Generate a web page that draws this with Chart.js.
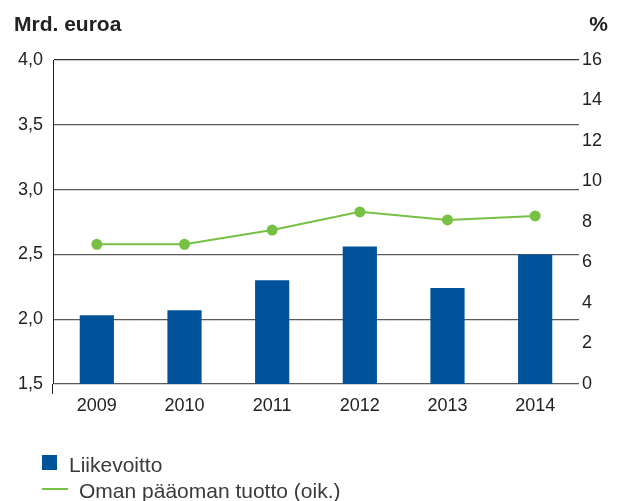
<!DOCTYPE html>
<html>
<head>
<meta charset="utf-8">
<script src="https://cdn.jsdelivr.net/npm/chart.js@4.4.1/dist/chart.umd.min.js"></script>
<style>
    body { margin: 0; background: #fff; }
    #wrap { position: relative; width: 622px; height: 501px; overflow: hidden; font-family: "Liberation Sans", Arial, sans-serif; color: #222; }
    #chart { position: absolute; left: 0; top: 0; }
    .title { position: absolute; top: 13px; font-weight: bold; font-size: 21px; line-height: 21px; color: #222; }
    .legend-text { position: absolute; font-size: 21px; line-height: 21px; color: #3a3a3a; }
    .swatch { position: absolute; }
</style>
</head>
<body>
<div id="wrap">
    <canvas id="chart" width="622" height="501"></canvas>
    <div class="title" style="left:14px;">Mrd. euroa</div>
    <div class="title" style="right:14px;">%</div>
    <div class="swatch" style="left:42px; top:455px; width:15px; height:15px; background:#00529b;"></div>
    <div class="legend-text" style="left:69px; top:454px;">Liikevoitto</div>
    <div class="swatch" style="left:42px; top:488px; width:26px; height:2px; background:#76c043;"></div>
    <div class="legend-text" style="left:79px; top:480px;">Oman pääoman tuotto (oik.)</div>
</div>
<script>
const years = ['2009', '2010', '2011', '2012', '2013', '2014'];
// Liikevoitto, mrd. euroa (left axis)
const operatingProfit = [2.03, 2.07, 2.30, 2.56, 2.24, 2.50];
// Oman pääoman tuotto, % (right axis)
const returnOnEquity = [6.9, 6.9, 7.6, 8.5, 8.1, 8.3];

const leftTicks = { min: 1.5, max: 4.0, step: 0.5 };
const rightTicks = { min: 0, max: 16, step: 2 };

const tickFont = { family: '"Liberation Sans Narrow", "Liberation Sans", Arial, sans-serif', size: 18 };

const ctx = document.getElementById('chart').getContext('2d');
new Chart(ctx, {
    type: 'bar',
    data: {
        labels: years,
        datasets: [{
            type: 'line',
            label: 'Oman pääoman tuotto (oik.)',
            data: returnOnEquity,
            yAxisID: 'y1',
            borderColor: '#76c043',
            backgroundColor: '#76c043',
            borderWidth: 2,
            pointRadius: 5.5,
            pointBackgroundColor: '#76c043',
            pointBorderWidth: 0,
            tension: 0,
            order: 0,
            clip: false
        }, {
            type: 'bar',
            label: 'Liikevoitto',
            data: operatingProfit,
            yAxisID: 'y',
            backgroundColor: '#00529b',
            categoryPercentage: 1,
            barPercentage: 0.39,
            order: 1
        }]
    },
    options: {
        responsive: false,
        animation: false,
        layout: { padding: { top: 60, left: 0, right: 0, bottom: 0 } },
        plugins: {
            legend: { display: false },
            tooltip: { enabled: false }
        },
        scales: {
            x: {
                offset: true,
                grid: {
                    offset: true,
                    drawOnChartArea: false,
                    drawTicks: true,
                    tickLength: 10,
                    color: c => c.index === 0 ? '#222' : 'rgba(0,0,0,0)'
                },
                border: { display: false },
                ticks: { color: '#222', font: tickFont, padding: 1, maxRotation: 0 },
                afterFit: scale => { scale.height = 117; }
            },
            y: {
                position: 'left',
                min: leftTicks.min,
                max: leftTicks.max,
                grid: {
                    drawTicks: false,
                    color: c => c.tick && c.tick.value === leftTicks.max ? '#333' : '#5a5a5a',
                    lineWidth: 1.2
                },
                border: { display: true, color: '#222', width: 1 },
                ticks: {
                    stepSize: leftTicks.step,
                    color: '#222',
                    font: tickFont,
                    padding: 10,
                    callback: v => v.toFixed(1).replace('.', ',')
                },
                afterFit: scale => { scale.width = 53; }
            },
            y1: {
                position: 'right',
                min: rightTicks.min,
                max: rightTicks.max,
                grid: { display: false, drawTicks: false },
                border: { display: false },
                ticks: {
                    stepSize: rightTicks.step,
                    color: '#222',
                    font: tickFont,
                    padding: 3
                },
                afterFit: scale => { scale.width = 43; }
            }
        }
    }
});
</script>
</body>
</html>
